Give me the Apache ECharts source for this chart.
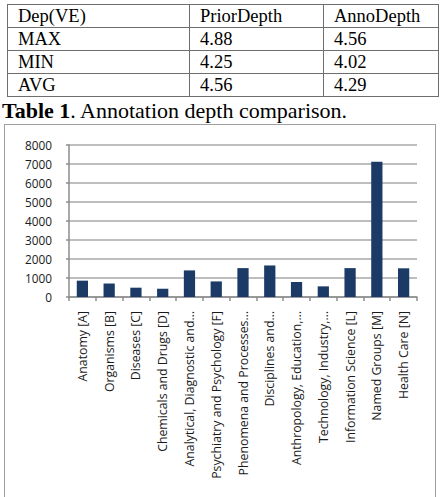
<!DOCTYPE html>
<html>
<head>
<meta charset="utf-8">
<script src="https://cdn.jsdelivr.net/npm/echarts@6/dist/echarts.min.js"></script>
<style>
  html, body { margin:0; padding:0; background:#fff; width:443px; height:497px; overflow:hidden; position:relative; }
  #tbl { position:absolute; left:7px; top:4px; border-collapse:collapse; font-family:"Liberation Serif","Times New Roman",serif; font-size:18.5px; color:#000; }
  #tbl td { border:1.5px solid #6e6e6e; padding:0 0 0 10px; height:22px; line-height:22px; white-space:nowrap; }
  #caption { position:absolute; left:2px; top:99px; font-family:"Liberation Serif","Times New Roman",serif; font-size:22px; color:#000; white-space:nowrap; line-height:24px; }
  #box { position:absolute; left:4px; top:124px; width:432px; height:400px; border:1.5px solid #a0a0a0; box-sizing:border-box; }
  #chart { position:absolute; left:0; top:0; width:443px; height:497px; }
</style>
</head>
<body>
<table id="tbl"></table>
<div id="caption"></div>
<div id="box"></div>
<div id="chart"></div>
<script>
// ---- Table data ----
const tableHeader = ["Dep(VE)", "PriorDepth", "AnnoDepth"];
const tableRowLabels = ["MAX", "MIN", "AVG"];
const priorDepth = ["4.88", "4.25", "4.56"];
const annoDepth = ["4.56", "4.02", "4.29"];
const captionBold = "Table 1";
const captionRest = ". Annotation depth comparison.";

// ---- Chart data ----
const categories = [
  "Anatomy [A]",
  "Organisms [B]",
  "Diseases [C]",
  "Chemicals and Drugs [D]",
  "Analytical, Diagnostic and…",
  "Psychiatry and Psychology [F]",
  "Phenomena and Processes…",
  "Disciplines and…",
  "Anthropology, Education,…",
  "Technology, Industry,…",
  "Information Science [L]",
  "Named Groups [M]",
  "Health Care [N]"
];
const values = [860, 710, 490, 435, 1400, 820, 1520, 1660, 790, 560, 1520, 7120, 1510];
const yTicks = [0, 1000, 2000, 3000, 4000, 5000, 6000, 7000, 8000];

// build table
const tbl = document.getElementById('tbl');
const colW = [171, 123, 104];
function addRow(cells) {
  const tr = document.createElement('tr');
  cells.forEach((c, i) => {
    const td = document.createElement('td');
    td.textContent = c;
    td.style.width = colW[i] + 'px';
    tr.appendChild(td);
  });
  tbl.appendChild(tr);
}
addRow(tableHeader);
tableRowLabels.forEach((r, i) => addRow([r, priorDepth[i], annoDepth[i]]));

const cap = document.getElementById('caption');
const b = document.createElement('b'); b.textContent = captionBold;
cap.appendChild(b);
cap.appendChild(document.createTextNode(captionRest));

// chart
const chart = echarts.init(document.getElementById('chart'), null, { renderer: 'svg' });
chart.setOption({
  animation: false,
  grid: { left: 69, right: 26, top: 145, bottom: 200, containLabel: false },
  xAxis: {
    type: 'category',
    data: categories,
    axisLine: { show: true, lineStyle: { color: '#8c8c8c', width: 1.5 } },
    axisTick: { show: true, length: 4, lineStyle: { color: '#8c8c8c', width: 1.5 } },
    axisLabel: {
      rotate: 90, interval: 0, margin: 14,
      fontFamily: 'Open Sans, sans-serif', fontSize: 12.3, color: '#1a1a1a'
    }
  },
  yAxis: {
    type: 'value',
    min: yTicks[0], max: yTicks[yTicks.length - 1], interval: yTicks[1] - yTicks[0],
    axisLine: { show: true, lineStyle: { color: '#8c8c8c', width: 1.5 } },
    axisTick: { show: true, length: 3, lineStyle: { color: '#8c8c8c', width: 1.5 } },
    splitLine: { show: true, lineStyle: { color: '#a9a9a9', width: 1.5 } },
    axisLabel: {
      margin: 17, fontFamily: 'Open Sans, sans-serif', fontSize: 11.8, color: '#1a1a1a',
      formatter: v => String(v)
    }
  },
  series: [{
    type: 'bar',
    data: values,
    barWidth: '42%',
    itemStyle: { color: '#1b3a66' }
  }]
});
</script>
</body>
</html>
